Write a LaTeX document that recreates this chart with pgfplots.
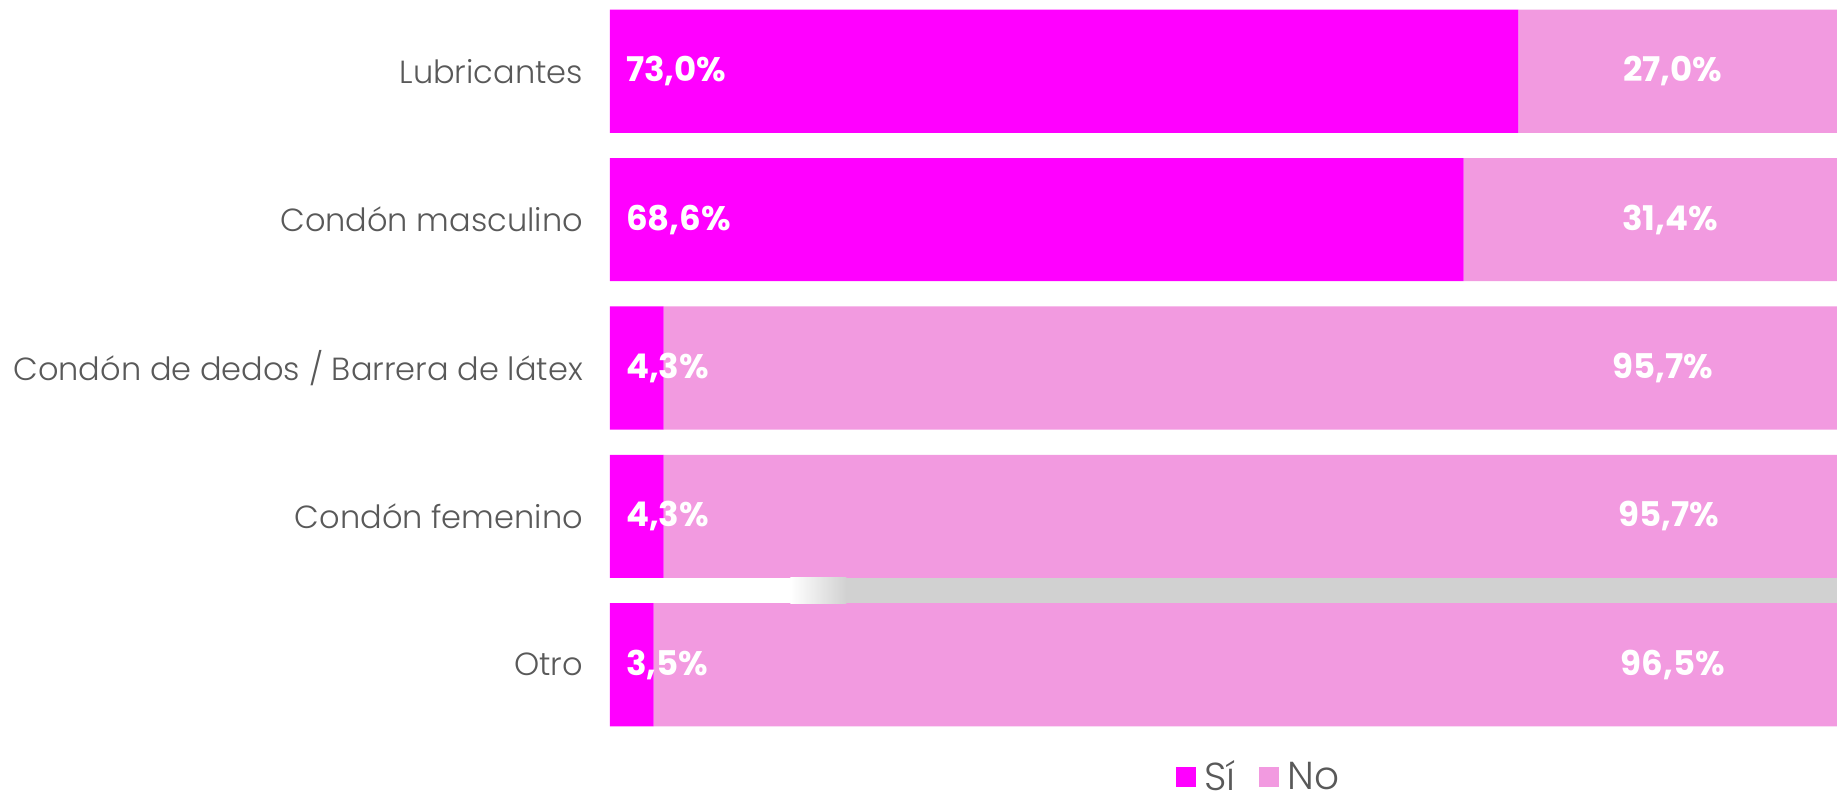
\documentclass[border=0pt]{standalone}
\usepackage{pgfplots}
\pgfplotsset{compat=1.18}
\usepackage{pgfplotstable}
\usepackage{fontspec}
\setmainfont{Poppins}[UprightFont=* Light, BoldFont=* Bold]
\definecolor{si}{HTML}{FF00FF}
\definecolor{no}{HTML}{F29AE0}
\definecolor{txt}{HTML}{595959}
\pgfplotstableread{
y si no sipos nopos silab nolab
0 73.0 27.0 0 85.4 73,0 27,0
1 68.6 31.4 0 85.2 68,6 31,4
2 4.3 95.7 0 84.6 4,3 95,7
3 4.3 95.7 0 85.1 4,3 95,7
4 3.5 96.5 0 85.4 3,5 96,5
}\datatable
\begin{document}
\begin{tikzpicture}
\pgfplotsset{common/.style={
  scale only axis, width=613.5pt, height=368pt,
  xmin=0, xmax=98.6, ymin=-0.48, ymax=4.48, y dir=reverse}}
\begin{axis}[common,
  xbar stacked, bar width=0.83,
  axis line style={draw=none},
  xtick=\empty,
  ytick={0,1,2,3,4},
  yticklabels={Lubricantes,Condón masculino,Condón de dedos / Barrera de látex,Condón femenino,Otro},
  major tick length=0pt,
  yticklabel style={font=\fontsize{16}{18}\selectfont, text=txt, anchor=east, xshift=-10pt},
  legend style={at={(0.531,-0.056)}, anchor=center, draw=none, fill=none,
    legend columns=2, font=\fontsize{19.5}{21}\selectfont, text=txt,
    inner sep=0pt, /tikz/every node/.append style={inner xsep=4pt, inner ysep=0.5pt},
    /tikz/every even column/.append style={column sep=8pt}},
  legend cell align=left,
  legend image code/.code={\fill[#1] (0pt,-5pt) rectangle (10pt,5pt);},
]
\addplot[fill=si, draw=none] table[x=si, y=y] {\datatable};
\addlegendentry{Sí}
\addplot[fill=no, draw=none] table[x=no, y=y] {\datatable};
\addlegendentry{No}
\end{axis}
\begin{axis}[common, hide axis]
\shade[left color=white, right color=black!18] (axis cs:14.5,3.415) rectangle (axis cs:19,3.585);
\fill[black!18] (axis cs:19,3.415) rectangle (axis cs:98.6,3.585);
\addplot[draw=none, mark=none, nodes near coords={\textbf{\pgfplotspointmeta\%}},
  point meta=explicit symbolic,
  every node near coord/.append style={anchor=west, xshift=4.5pt, text=white, font=\fontsize{17}{20}\selectfont}]
  table[x=sipos, y=y, meta=silab] {\datatable};
\addplot[draw=none, mark=none, nodes near coords={\textbf{\pgfplotspointmeta\%}},
  point meta=explicit symbolic,
  every node near coord/.append style={anchor=center, text=white, font=\fontsize{17}{20}\selectfont}]
  table[x=nopos, y=y, meta=nolab] {\datatable};
\end{axis}
\pgfresetboundingbox
\path (current axis.south west) ++(-305pt,-34pt) rectangle (current axis.north east);
\end{tikzpicture}
\end{document}
